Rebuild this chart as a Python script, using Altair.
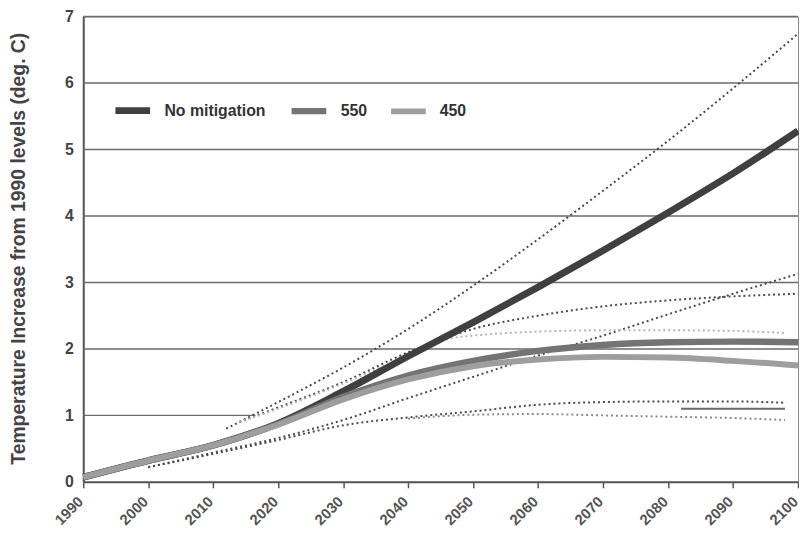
import altair as alt
import pandas as pd

FONT = "Liberation Sans"

# ---- main scenario curves (deg C above 1990) ----
years = [1990, 2000, 2010, 2020, 2030, 2040, 2050, 2060, 2070, 2080, 2090, 2100]
no_mitigation = [0.07, 0.32, 0.55, 0.88, 1.36, 1.89, 2.4, 2.93, 3.48, 4.05, 4.64, 5.28]
stab_550 = [0.07, 0.32, 0.55, 0.87, 1.28, 1.6, 1.82, 1.97, 2.06, 2.1, 2.11, 2.1]
stab_450 = [0.07, 0.32, 0.55, 0.86, 1.24, 1.54, 1.74, 1.84, 1.88, 1.87, 1.82, 1.75]
series_names = ["No mitigation", "550", "450"]

# ---- uncertainty bounds (dotted) ----
nm_hi_years = [2012, 2020, 2030, 2040, 2050, 2060, 2070, 2080, 2090, 2100]
nm_hi = [0.8, 1.2, 1.72, 2.3, 2.95, 3.65, 4.38, 5.13, 5.92, 6.74]
nm_lo_years = [2000, 2010, 2020, 2030, 2040, 2050, 2060, 2070, 2080, 2090, 2100]
nm_lo = [0.22, 0.44, 0.66, 0.93, 1.26, 1.58, 1.9, 2.2, 2.52, 2.83, 3.13]
s550_hi_years = [2014, 2020, 2030, 2040, 2050, 2060, 2070, 2080, 2090, 2100]
s550_hi = [0.9, 1.12, 1.5, 1.95, 2.3, 2.5, 2.64, 2.73, 2.79, 2.83]
s550_lo_years = [2000, 2010, 2020, 2030, 2040, 2050, 2060, 2070, 2080, 2090, 2098]
s550_lo = [0.22, 0.42, 0.63, 0.85, 0.97, 1.06, 1.16, 1.2, 1.21, 1.21, 1.19]
s450_hi_years = [2014, 2020, 2030, 2040, 2046, 2050, 2060, 2070, 2080, 2090, 2098]
s450_hi = [0.9, 1.1, 1.48, 1.9, 2.15, 2.2, 2.26, 2.28, 2.28, 2.27, 2.24]
s450_lo_years = [2040, 2050, 2060, 2070, 2080, 2090, 2098]
s450_lo = [0.95, 1.01, 1.02, 1.0, 0.98, 0.96, 0.93]
short_years = [2082, 2098]
short_vals = [1.1, 1.1]

# ---- horizontal grid lines ----
grid_levels = [1, 2, 3, 4, 5, 6, 7]
grid_start = [1990] * 7
grid_end = [2016.5, 2100, 2100, 2100, 2100, 2100, 2100]

main_df = pd.DataFrame({
    "year": years * 3,
    "temp": no_mitigation + stab_550 + stab_450,
    "series": sum([[n] * len(years) for n in series_names], []),
})


def bound_df(pairs):
    rows = []
    for name, ys, vs in pairs:
        for y, v in zip(ys, vs):
            rows.append({"year": y, "temp": v, "line": name})
    return pd.DataFrame(rows)


dark_dotted = bound_df([("nm_hi", nm_hi_years, nm_hi), ("nm_lo", nm_lo_years, nm_lo),
                        ("s550_hi", s550_hi_years, s550_hi), ("s550_lo", s550_lo_years, s550_lo)])
light_hi = bound_df([("s450_hi", s450_hi_years, s450_hi)])
light_lo = bound_df([("s450_lo", s450_lo_years, s450_lo)])
short_df = bound_df([("short", short_years, short_vals)])
grid_df = pd.DataFrame({"level": grid_levels, "x0": grid_start, "x1": grid_end})

x_scale = alt.Scale(domain=[1990, 2100], nice=False, zero=False)
y_scale = alt.Scale(domain=[0, 7], nice=False)
x_axis = alt.Axis(values=years, format="d", labelAngle=-45, title=None, grid=False,
                  labelFont=FONT, labelFontSize=15, labelFontWeight="bold",
                  labelColor="#555555", tickSize=6, tickColor="#555555", tickWidth=1.5,
                  domainColor="#555555", domainWidth=2, labelPadding=6, labelOffset=-8)
y_axis = alt.Axis(values=list(range(8)), format="d", grid=False, ticks=False,
                  labelFont=FONT, labelFontSize=16, labelFontWeight="bold",
                  labelColor="#444444", labelPadding=10,
                  domainColor="#555555", domainWidth=2,
                  title="Temperature Increase from 1990 levels (deg. C)",
                  titleFont=FONT, titleFontSize=19.5, titleFontWeight="bold",
                  titleColor="#444444", titleX=-65, titleY=234,
                  titleAngle=-90, titleAlign="center", titleBaseline="middle")

grid = alt.Chart(grid_df).mark_rule(color="#6b6b6b", strokeWidth=1.5).encode(
    x=alt.X("x0:Q", scale=x_scale, axis=x_axis, title=None),
    x2="x1:Q",
    y=alt.Y("level:Q", scale=y_scale, axis=y_axis,
            title="Temperature Increase from 1990 levels (deg. C)"),
)

dots_dark = alt.Chart(dark_dotted).mark_line(
    interpolate="monotone", strokeDash=[2, 3], strokeWidth=2, color="#4a4a4a"
).encode(x="year:Q", y="temp:Q", detail="line:N")
dots_light_hi = alt.Chart(light_hi).mark_line(
    interpolate="monotone", strokeDash=[2, 3], strokeWidth=2, color="#b5b5b5"
).encode(x="year:Q", y="temp:Q", detail="line:N")
dots_light_lo = alt.Chart(light_lo).mark_line(
    interpolate="monotone", strokeDash=[2, 3], strokeWidth=2, color="#8a8a8a"
).encode(x="year:Q", y="temp:Q", detail="line:N")
short = alt.Chart(short_df).mark_line(strokeWidth=2, color="#6a6a6a").encode(
    x="year:Q", y="temp:Q", detail="line:N")

main = alt.Chart(main_df).mark_line(interpolate="monotone", strokeCap="butt").encode(
    x=alt.X("year:Q"),
    y=alt.Y("temp:Q"),
    color=alt.Color("series:N", sort=series_names,
                    scale=alt.Scale(domain=series_names, range=["#404040", "#747474", "#9e9e9e"]),
                    legend=alt.Legend(orient="none", legendX=29, legendY=74, direction="horizontal",
                                      title=None, symbolType="stroke", symbolSize=1225,
                                      symbolStrokeWidth=6, labelFont=FONT, labelFontSize=16,
                                      labelFontWeight="bold", labelColor="#333333",
                                      labelOffset=11, columnPadding=12, padding=0)),
    strokeWidth=alt.StrokeWidth("series:N", sort=series_names,
                                scale=alt.Scale(domain=series_names, range=[7, 6, 5]), legend=None),
    order=alt.Order("series:N", sort="ascending"),
)

chart = alt.layer(grid, dots_dark, dots_light_hi, dots_light_lo, short, main).properties(
    width=722, height=470,
    autosize=alt.AutoSizeParams(type="none"),
    padding={"left": 76, "top": 6, "right": 1, "bottom": 47},
    background="white",
).configure_view(stroke="#8a8a8a", strokeWidth=1)

chart.save("out.html", embed_options={"renderer": "svg", "actions": False})
